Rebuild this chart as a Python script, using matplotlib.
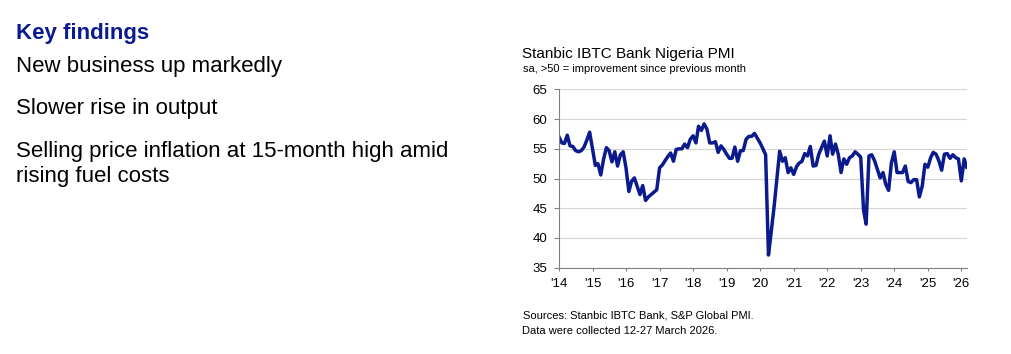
import pandas as pd
import matplotlib.pyplot as plt

plt.rcParams['font.family'] = ['Liberation Sans', 'DejaVu Sans']

# Stanbic IBTC Bank Nigeria PMI, monthly, Jan 2014 - Mar 2026
pmi_2014 = [57.0, 56.0, 55.9, 57.3, 55.5, 55.4, 54.7, 54.5, 54.7, 55.3, 56.5, 57.8]
pmi_2015 = [55.0, 52.2, 52.5, 50.6, 53.2, 55.2, 54.7, 52.8, 54.5, 52.1, 54.0, 54.5]
pmi_2016 = [51.8, 47.8, 49.5, 50.1, 48.7, 47.3, 48.8, 46.3, 46.9, 47.3, 47.7, 48.1]
pmi_2017 = [51.8, 52.3, 53.0, 53.7, 54.3, 52.9, 54.9, 55.0, 55.0, 55.8, 55.2, 56.6]
pmi_2018 = [57.2, 56.0, 58.8, 58.1, 59.2, 58.3, 56.0, 56.0, 56.2, 54.4, 55.5, 54.9]
pmi_2019 = [54.1, 53.4, 53.4, 55.3, 52.9, 54.7, 54.7, 56.6, 57.1, 57.1, 57.6, 56.8]
pmi_2020 = [56.0, 55.0, 54.0, 37.1, 41.0, 45.2, 49.8, 54.6, 52.9, 53.5, 51.0, 51.8]
pmi_2021 = [50.7, 52.0, 52.6, 52.9, 54.2, 53.8, 55.4, 52.1, 52.2, 54.1, 55.2, 56.3]
pmi_2022 = [53.8, 57.2, 54.1, 55.8, 54.1, 51.0, 53.3, 52.4, 53.5, 53.8, 54.5, 54.1]
pmi_2023 = [53.6, 44.7, 42.3, 53.8, 54.0, 53.0, 51.6, 50.1, 51.0, 49.0, 48.0, 52.6]
pmi_2024 = [54.5, 51.0, 51.0, 51.0, 52.1, 49.5, 49.3, 49.8, 49.8, 46.9, 48.7, 52.4]
pmi_2025 = [51.9, 53.5, 54.4, 54.1, 53.0, 51.4, 54.1, 54.2, 53.4, 54.0, 53.5, 53.3]
pmi_2026 = [49.6, 53.3, 51.9]

pmi = (pmi_2014 + pmi_2015 + pmi_2016 + pmi_2017 + pmi_2018 + pmi_2019 + pmi_2020
       + pmi_2021 + pmi_2022 + pmi_2023 + pmi_2024 + pmi_2025 + pmi_2026)
months = pd.date_range('2014-01-01', periods=len(pmi), freq='MS')

year_ticks = pd.date_range('2014-01-01', '2026-01-01', freq='YS')
year_labels = ["'14", "'15", "'16", "'17", "'18", "'19", "'20",
               "'21", "'22", "'23", "'24", "'25", "'26"]

findings = ["New business up markedly",
            "Slower rise in output",
            "Selling price inflation at 15-month high amid",
            "rising fuel costs"]
findings_baseline = [71.7, 114, 156.7, 181.7]  # pixels from top

NAVY = '#0b1a8c'
W, H = 1011, 354

fig = plt.figure(figsize=(W / 100, H / 100), dpi=100)

# left-hand text block
fig.text(16 / W, 1 - 39.5 / H, "Key findings", fontsize=16, fontweight='bold',
         color=NAVY, va='baseline')
for line, base in zip(findings, findings_baseline):
    fig.text(16 / W, 1 - base / H, line, fontsize=16, va='baseline')

# chart titles
fig.text(522 / W, 1 - 58.3 / H, "Stanbic IBTC Bank Nigeria PMI", fontsize=11,
         va='baseline')
fig.text(523 / W, 1 - 71.7 / H, "sa, >50 = improvement since previous month",
         fontsize=8, va='baseline')

ax = fig.add_axes([559 / W, 1 - 267.5 / H, 408 / W, 178 / H])
ax.plot(months, pmi, color=NAVY, lw=2.5, solid_joinstyle='round')

ax.set_ylim(35, 65)
ax.set_yticks(range(35, 66, 5))
ax.set_xlim(pd.Timestamp('2014-01-01'), pd.Timestamp('2026-03-04'))
ax.set_xticks(year_ticks)
ax.set_xticklabels(year_labels)

ax.grid(axis='y', color='#d4d4d4', lw=0.8)
ax.set_axisbelow(True)
for side in ['top', 'right']:
    ax.spines[side].set_visible(False)
for side in ['left', 'bottom']:
    ax.spines[side].set_color('#808080')
    ax.spines[side].set_linewidth(0.8)
ax.tick_params(axis='y', length=3.5, width=0.8, color='#808080', pad=5,
               labelsize=9.5)
ax.tick_params(axis='x', length=2.5, width=0.8, color='#808080', pad=5,
               labelsize=9.5)

# footnotes
fig.text(523 / W, 1 - 319 / H, "Sources: Stanbic IBTC Bank, S&P Global PMI.",
         fontsize=8, va='baseline')
fig.text(522 / W, 1 - 334 / H, "Data were collected 12-27 March 2026.",
         fontsize=8, va='baseline')

fig.savefig('out.png', dpi=100)
